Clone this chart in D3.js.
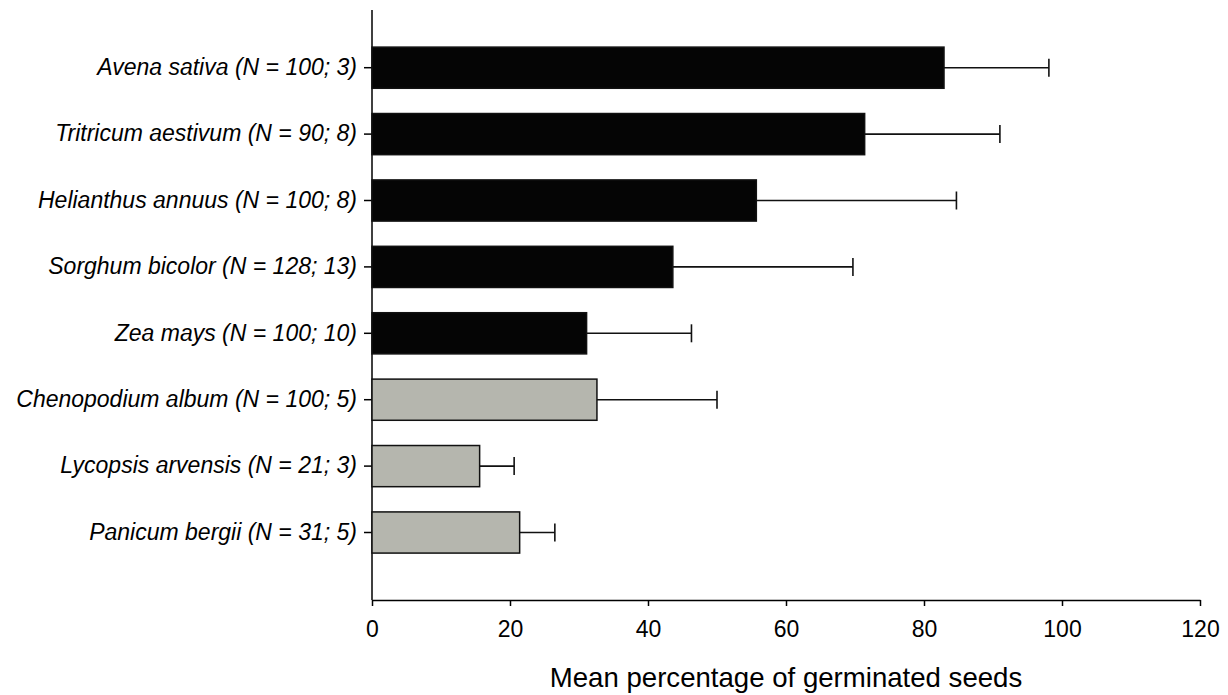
<!DOCTYPE html>
<html>
<head>
<meta charset="utf-8">
<script src="https://d3js.org/d3.v7.min.js"></script>
<style>
  body { margin: 0; background: #fff; }
  text { font-family: Arial, "Liberation Sans", sans-serif; fill: #000; }
</style>
</head>
<body>
<div id="my_dataviz"></div>
<script>

// data
var species = ["Avena sativa (N = 100; 3)", "Tritricum aestivum (N = 90; 8)",
  "Helianthus annuus (N = 100; 8)", "Sorghum bicolor (N = 128; 13)",
  "Zea mays (N = 100; 10)", "Chenopodium album (N = 100; 5)",
  "Lycopsis arvensis (N = 21; 3)", "Panicum bergii (N = 31; 5)"];
var means = [82.9, 71.4, 55.7, 43.6, 31.1, 32.6, 15.6, 21.4];
var errors = [15.2, 19.6, 29.0, 26.1, 15.2, 17.4, 5.0, 5.1];
var groups = ["crop", "crop", "crop", "crop", "crop", "weed", "weed", "weed"];
var xTicks = [0, 20, 40, 60, 80, 100, 120];

var data = species.map(function(s, i) {
  return {name: s, mean: means[i], err: errors[i], group: groups[i]};
});

// set the dimensions and margins of the graph
var width = 1228, height = 695;
var margin = {top: 10, left: 372, right: 28, bottom: 95};

var svg = d3.select("#my_dataviz")
.append("svg")
  .attr("width", width)
  .attr("height", height);

// scales
var x = d3.scaleLinear()
  .domain([0, 120])
  .range([margin.left, width - margin.right]);

var y = d3.scaleBand()
  .domain(species)
  .range([34.5, 565.7])
  .paddingInner(0.38)
  .paddingOuter(0.19);

var color = {crop: "#050505", weed: "#b5b6ae"};

// x axis
var xAxis = svg.append("g")
  .attr("transform", "translate(0," + (height - margin.bottom) + ")")
  .call(d3.axisBottom(x).tickValues(xTicks).tickSize(6).tickPadding(15).tickSizeOuter(0));
xAxis.select(".domain").attr("stroke-width", 1.5);
xAxis.selectAll(".tick line").attr("stroke-width", 1.5);
xAxis.selectAll(".tick text").style("font-size", "23px").attr("fill", "#000");

// y axis (line from the top of the plot down to the x axis)
svg.append("line")
  .attr("x1", margin.left).attr("x2", margin.left)
  .attr("y1", margin.top).attr("y2", height - margin.bottom)
  .attr("stroke", "#000")
  .attr("stroke-width", 1.5);

var yAxis = svg.append("g")
  .attr("transform", "translate(" + margin.left + ",0)")
  .call(d3.axisLeft(y).tickSize(8).tickPadding(7));
yAxis.select(".domain").remove();
yAxis.selectAll(".tick line").attr("stroke-width", 1.5);
yAxis.selectAll(".tick text")
  .style("font-size", "23px")
  .style("font-style", "italic")
  .attr("fill", "#000");

// bars
svg.selectAll(".bar")
  .data(data)
  .enter()
  .append("rect")
    .attr("class", "bar")
    .attr("x", x(0))
    .attr("y", function(d) { return y(d.name); })
    .attr("width", function(d) { return x(d.mean) - x(0); })
    .attr("height", y.bandwidth())
    .attr("fill", function(d) { return color[d.group]; })
    .attr("stroke", "#111")
    .attr("stroke-width", 1.5);

// error bars (one-sided)
var eb = svg.selectAll(".err")
  .data(data)
  .enter()
  .append("g")
    .attr("class", "err")
    .attr("stroke", "#111")
    .attr("stroke-width", 1.6);
eb.append("line")
  .attr("x1", function(d) { return x(d.mean); })
  .attr("x2", function(d) { return x(d.mean + d.err); })
  .attr("y1", function(d) { return y(d.name) + y.bandwidth() / 2; })
  .attr("y2", function(d) { return y(d.name) + y.bandwidth() / 2; });
eb.append("line")
  .attr("x1", function(d) { return x(d.mean + d.err); })
  .attr("x2", function(d) { return x(d.mean + d.err); })
  .attr("y1", function(d) { return y(d.name) + y.bandwidth() / 2 - 9; })
  .attr("y2", function(d) { return y(d.name) + y.bandwidth() / 2 + 9; });

// x axis title
svg.append("text")
  .attr("x", (x(0) + x(120)) / 2)
  .attr("y", 687)
  .attr("text-anchor", "middle")
  .style("font-size", "27.6px")
  .text("Mean percentage of germinated seeds");

</script>
</body>
</html>
